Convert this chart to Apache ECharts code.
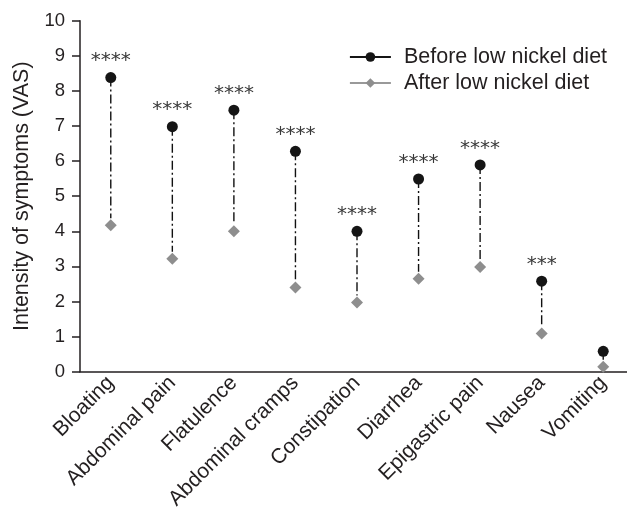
<!DOCTYPE html>
<html>
<head>
<meta charset="utf-8">
<script src="https://cdn.jsdelivr.net/npm/echarts@6/dist/echarts.min.js"></script>
<style>html,body{margin:0;padding:0;background:#fff}#c{width:627px;height:514px}</style>
</head>
<body>
<div id="c"></div>
<script>
const categories = ['Bloating','Abdominal pain','Flatulence','Abdominal cramps','Constipation','Diarrhea','Epigastric pain','Nausea','Vomiting'];
const before = [8.38, 6.98, 7.45, 6.28, 4.0, 5.49, 5.89, 2.58, 0.58];
const after = [4.17, 3.22, 4.0, 2.4, 1.97, 2.65, 2.98, 1.09, 0.14];
const significance = ['****','****','****','****','****','****','****','***',''];
const yTicks = [0,1,2,3,4,5,6,7,8,9,10];

const chart = echarts.init(document.getElementById('c'));
const FONT = '"Liberation Sans", Arial, sans-serif';
chart.setOption({
  animation: false,
  backgroundColor: '#fff',
  grid: {left: 80, right: -7, top: 20.7, bottom: 142.3, outerBoundsMode: 'none'},
  legend: {
    orient: 'vertical', left: 349, top: 44, padding: 0, itemWidth: 41, itemHeight: 12, itemGap: 0,
    data: ['Before low nickel diet','After low nickel diet'],
    lineStyle: {opacity: 1, width: 1.8},
    textStyle: {fontFamily: FONT, fontSize: 21.5, color: '#231f20', lineHeight: 26, padding: [0,0,0,8]}
  },
  xAxis: {
    type: 'category', data: categories, boundaryGap: true,
    axisLine: {lineStyle: {color: '#231f20', width: 1.5}},
    axisTick: {length: 7, lineStyle: {color: '#231f20', width: 1.5}},
    axisLabel: {rotate: 45, interval: 0, margin: 8, fontFamily: FONT, fontSize: 21, color: '#231f20'}
  },
  yAxis: {
    type: 'value', min: yTicks[0], max: yTicks[yTicks.length-1], interval: 1,
    name: 'Intensity of symptoms (VAS)', nameLocation: 'middle', nameGap: 44,
    nameTextStyle: {fontFamily: FONT, fontSize: 21.5, color: '#231f20'},
    axisLine: {show: true, lineStyle: {color: '#231f20', width: 1.5}},
    axisTick: {show: true, length: 8, lineStyle: {color: '#231f20', width: 1.5}},
    axisLabel: {margin: 15, fontFamily: FONT, fontSize: 18.5, color: '#231f20'},
    splitLine: {show: false}
  },
  series: [
    {
      type: 'custom', name: 'connector', silent: true, z: 1,
      data: categories.map((c, i) => [i, before[i], after[i]]),
      renderItem: function (params, api) {
        const i = api.value(0);
        const p1 = api.coord([i, api.value(1)]);
        const p2 = api.coord([i, api.value(2)]);
        const y2 = Math.max(p1[1] + 4, p2[1] - 7);
        return {type: 'line', shape: {x1: p1[0], y1: p1[1], x2: p2[0], y2: y2},
          style: {stroke: '#111', lineWidth: 1.4, lineDash: [9, 3, 2, 3]}};
      }
    },
    {
      type: 'line', name: 'Before low nickel diet', data: before, z: 3,
      symbol: 'circle', symbolSize: 11, color: '#151515',
      lineStyle: {opacity: 0, color: '#151515'},
      itemStyle: {color: '#151515'},
      label: {show: true, position: 'top', distance: 1, formatter: p => significance[p.dataIndex],
        fontFamily: '"DejaVu Sans", sans-serif', fontSize: 20, color: '#3a3a3a'}
    },
    {
      type: 'line', name: 'After low nickel diet', data: after, z: 2,
      symbol: 'diamond', symbolSize: 12, color: '#8e8e8e',
      lineStyle: {opacity: 0, color: '#999'},
      itemStyle: {color: '#8e8e8e'}
    }
  ]
});
</script>
</body>
</html>
